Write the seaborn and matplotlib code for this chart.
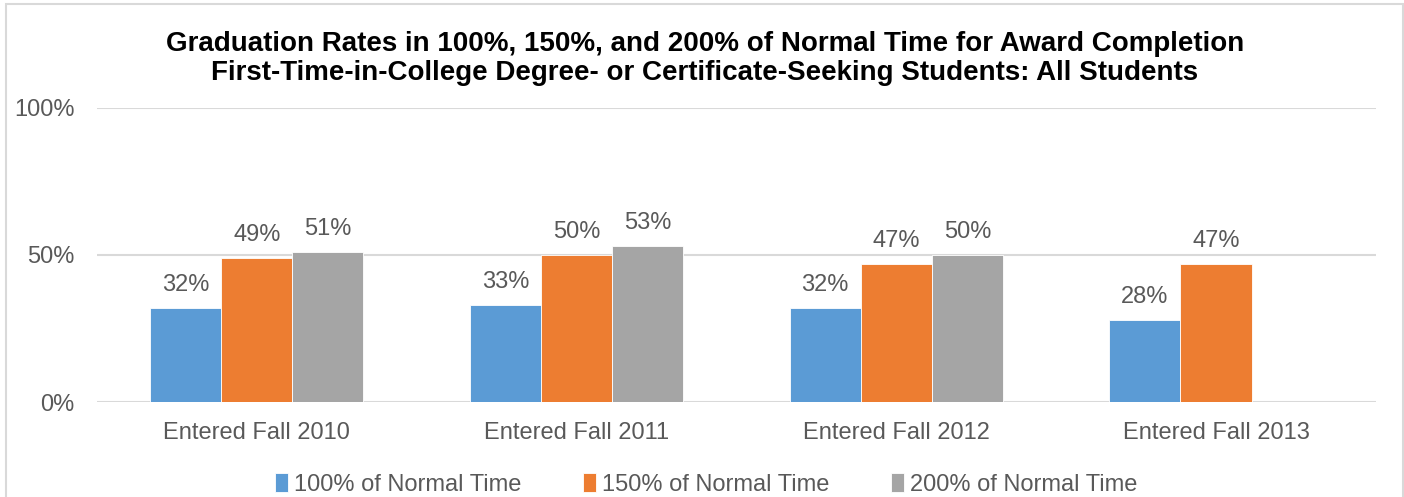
import numpy as np
import pandas as pd
import seaborn as sns
import matplotlib
matplotlib.use("Agg")
import matplotlib.pyplot as plt
from matplotlib.patches import Rectangle

# datos del gráfico
cohorts = ["Entered Fall 2010", "Entered Fall 2011", "Entered Fall 2012", "Entered Fall 2013"]
series = ["100% of Normal Time", "150% of Normal Time", "200% of Normal Time"]
rate_100 = [32, 33, 32, 28]
rate_150 = [49, 50, 47, 47]
rate_200 = [51, 53, 50, np.nan]
colors = ["#5B9BD5", "#ED7D31", "#A5A5A5"]
yticks = [0, 50, 100]

df = pd.DataFrame({
    "cohort": cohorts * 3,
    "serie": [s for s in series for _ in cohorts],
    "rate": rate_100 + rate_150 + rate_200,
})

sns.set_style("white")
plt.rcParams["font.family"] = ["Liberation Sans", "DejaVu Sans"]
txt = "#595959"

fig = plt.figure(figsize=(14.04, 4.97), dpi=100)
ax = fig.add_axes([0.069, 0.191, 0.911, 0.592])

sns.barplot(data=df, x="cohort", y="rate", hue="serie", hue_order=series,
            palette=colors, width=0.667, saturation=1, ax=ax,
            edgecolor="white", linewidth=0.6)

for c in ax.containers:
    ax.bar_label(c, fmt="%.0f%%", padding=8.5, fontsize=17, color=txt)

ax.set_ylim(0, 100)
ax.set_xlim(-0.5, 3.5)
ax.set_yticks(yticks)
ax.set_yticklabels([f"{t}%" for t in yticks])
ax.yaxis.grid(True, color="#D9D9D9", linewidth=1.5)
ax.set_axisbelow(True)
for s in ax.spines.values():
    s.set_visible(False)
ax.tick_params(axis="y", length=0, pad=16, labelsize=17, labelcolor=txt)
ax.tick_params(axis="x", length=0, pad=14, labelsize=17, labelcolor=txt)
ax.set_xlabel("")
ax.set_ylabel("")

handles, labels = ax.get_legend_handles_labels()
ax.get_legend().remove()
fig.legend(handles, labels, loc="center", bbox_to_anchor=(0.503, 0.026), ncol=3,
           frameon=False, fontsize=17, labelcolor=txt, handlelength=0.55,
           handleheight=0.9, handletextpad=0.25, columnspacing=2.6)

fig.text(0.502, 0.883, "Graduation Rates in 100%, 150%, and 200% of Normal Time for Award Completion\n"
         "First-Time-in-College Degree- or Certificate-Seeking Students: All Students",
         ha="center", va="center", fontsize=20, fontweight="bold", color="black",
         linespacing=1.16)

# borde del área del gráfico
fig.patches.append(Rectangle((6 / 1404, -0.1), 1397 / 1404, 1.1 - 4 / 497,
                             transform=fig.transFigure, fill=False,
                             edgecolor="#D9D9D9", linewidth=1.5))

fig.savefig("out.png", dpi=100)
